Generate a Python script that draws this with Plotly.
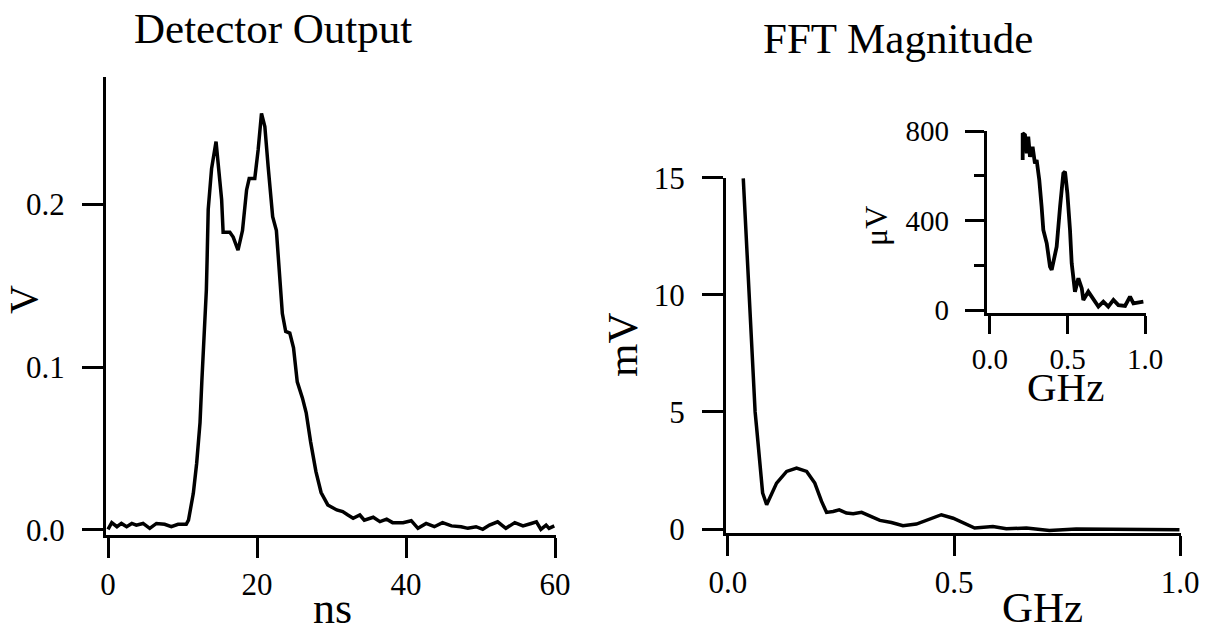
import plotly.graph_objects as go

W, H = 1212, 633
SERIF = "Liberation Serif"

# ---------------- data ----------------
# Detector output (time in ns, volts)
det_t = [0, 0.5, 1.2, 1.8, 2.5, 3.2, 3.8, 4.7, 5.6, 6.5, 7.6, 8.5, 9.4, 10.5,
         10.8, 11.45, 11.9, 12.35, 12.6, 12.87, 13.2, 13.3, 13.45, 13.9, 14.5,
         15.25, 15.45, 16.35, 16.8, 17.45, 18.05, 18.6, 18.95, 19.7, 20.15, 20.6,
         21.05, 21.5, 22.1, 22.6, 22.95, 23.4, 23.85, 24.4, 24.9, 25.4, 26.1,
         26.6, 27.2, 27.9, 28.6, 29.5, 30.7, 31.5, 32.2, 32.9, 33.8, 34.4, 35.6,
         36.5, 37.4, 38.2, 39.6, 40.7, 41.6, 42.7, 43.8, 44.9, 46.1, 47.4, 48.3,
         49.4, 50.3, 51.2, 52.3, 53.4, 54.6, 55.7, 56.8, 57.5, 58.1, 58.8, 59.2,
         59.9]
det_v = [0.0004, 0.0045, 0.002, 0.004, 0.002, 0.004, 0.003, 0.004, 0.001, 0.004,
         0.0035, 0.002, 0.0035, 0.0035,
         0.006, 0.0225, 0.041, 0.066, 0.092, 0.115, 0.1475, 0.166, 0.197, 0.222,
         0.2387,
         0.203, 0.183, 0.183, 0.180, 0.172, 0.184, 0.209, 0.216, 0.216, 0.2336,
         0.256, 0.248, 0.223, 0.1926, 0.184, 0.158, 0.133, 0.122, 0.121, 0.112,
         0.091, 0.081, 0.072, 0.054, 0.036, 0.023, 0.0154, 0.0123, 0.0113, 0.0092,
         0.0072, 0.0092, 0.006, 0.0078, 0.0051, 0.0066, 0.0045, 0.0045, 0.0057,
         0.001, 0.004, 0.002, 0.0045, 0.0025, 0.002, 0.001, 0.002, 0.0004, 0.003,
         0.005, 0.001, 0.0045, 0.0025, 0.004, 0.005, 0.0004, 0.003, 0.001, 0.0025]

# FFT magnitude (GHz, mV)
fft_f = [0.0338, 0.0464, 0.0523, 0.0574, 0.060, 0.063, 0.0707, 0.0766, 0.0855,
         0.1075, 0.1297, 0.1517, 0.174, 0.192, 0.207, 0.218, 0.2326, 0.246,
         0.262, 0.277, 0.2955, 0.314, 0.336, 0.3616, 0.387, 0.4167, 0.4462,
         0.472, 0.498, 0.5456, 0.586, 0.6156, 0.66, 0.711, 0.77, 0.844, 0.917,
         0.9986]
fft_mv = [14.97, 10.0, 8.0, 6.0, 5.0, 4.4, 2.8, 1.54, 1.04,
          1.96, 2.46, 2.60, 2.46, 1.96, 1.18, 0.71, 0.75, 0.82,
          0.68, 0.65, 0.71, 0.54, 0.37, 0.28, 0.14, 0.21, 0.43,
          0.61, 0.46, 0.04, 0.11, 0.01, 0.04, -0.06, 0.0, 0.0, -0.03,
          -0.03]

# Inset: FFT magnitude zoom (GHz, microvolts)
ins_f = [0.211, 0.211, 0.226, 0.237, 0.247, 0.258, 0.275, 0.29, 0.301, 0.318,
         0.333, 0.344, 0.366, 0.387, 0.398, 0.430, 0.452, 0.473, 0.484, 0.499,
         0.516, 0.527, 0.548, 0.570, 0.592, 0.602, 0.634, 0.667, 0.699, 0.731,
         0.763, 0.796, 0.828, 0.871, 0.903, 0.925, 0.957, 0.989]
ins_uv = [670, 790, 782, 700, 775, 685, 730, 655, 670, 581,
          462, 358, 298, 194, 179, 283, 462, 611, 618, 522,
          358, 209, 82, 142, 97, 45, 82, 45, 15, 37,
          15, 45, 22, 18, 60, 30, 33, 37]

det_xticks = [0, 20, 40, 60]
det_yticks = [0.0, 0.1, 0.2]
det_yticktext = ["0.0", "0.1", "0.2"]
fft_xticks = [0.0, 0.5, 1.0]
fft_xticktext = ["0.0", "0.5", "1.0"]
fft_yticks = [0, 5, 10, 15]
ins_yticks = [0, 400, 800]
ins_yminor = [200, 600]

# ---------------- helpers ----------------
def px_x(p):
    return p / W

def px_y(p):
    return 1 - p / H

line_style = dict(color="black", width=3.5)

fig = go.Figure()
fig.add_trace(go.Scatter(x=det_t, y=det_v, mode="lines", line=line_style,
                         xaxis="x", yaxis="y", hoverinfo="skip"))
fig.add_trace(go.Scatter(x=fft_f, y=fft_mv, mode="lines", line=line_style,
                         xaxis="x2", yaxis="y2", hoverinfo="skip"))
fig.add_trace(go.Scatter(x=ins_f, y=ins_uv, mode="lines",
                         line=dict(color="black", width=3.8),
                         xaxis="x3", yaxis="y3", hoverinfo="skip"))

common = dict(showgrid=False, zeroline=False, showline=True, linecolor="black",
              linewidth=3, ticks="outside", tickwidth=3, tickcolor="black",
              tickfont=dict(family=SERIF, size=31, color="black"),
              fixedrange=True, automargin=False)
small_font = dict(family=SERIF, size=29, color="black")

fig.update_layout(
    width=W, height=H, margin=dict(l=0, r=0, t=0, b=0, autoexpand=False),
    paper_bgcolor="white", plot_bgcolor="white", showlegend=False,
    xaxis=dict(**common, domain=[px_x(106), px_x(556)], range=[-0.27, 60.13],
               anchor="y", tickvals=det_xticks, ticklen=20,
               ticklabelstandoff=0),
    yaxis=dict(**common, domain=[px_y(535), px_y(77)], range=[-0.0031, 0.2784],
               anchor="x", tickvals=det_yticks, ticktext=det_yticktext,
               ticklen=21, ticklabelstandoff=11),
    xaxis2=dict(**common, domain=[px_x(726), px_x(1181)], range=[-0.0044, 1.002],
                anchor="y2", tickvals=fft_xticks, ticktext=fft_xticktext,
                ticklen=20, ticklabelstandoff=0),
    yaxis2=dict(**common, domain=[px_y(533), px_y(177.7)], range=[-0.17, 15.0],
                anchor="x2", tickvals=fft_yticks, ticklen=21,
                ticklabelstandoff=11),
    xaxis3=dict(**{**common, "tickfont": small_font},
                domain=[px_x(986.7), px_x(1146)], range=[-0.021, 1.006],
                anchor="y3", tickvals=fft_xticks, ticktext=fft_xticktext,
                ticklen=18, ticklabelstandoff=0),
    yaxis3=dict(**{**common, "tickfont": small_font},
                domain=[px_y(313.3), px_y(131)], range=[-14.7, 800],
                anchor="x3", tickvals=ins_yticks, ticklen=19,
                ticklabelstandoff=10,
                minor=dict(tickvals=ins_yminor, ticks="outside", ticklen=10,
                           tickwidth=3, tickcolor="black")),
)

def label(text, x, y, size, angle=0):
    fig.add_annotation(text=text, x=px_x(x), y=px_y(y), xref="paper", yref="paper",
                       showarrow=False, textangle=angle, xanchor="center",
                       yanchor="middle",
                       font=dict(family=SERIF, size=size, color="black"))

label("Detector Output", 273, 29, 43)
label("FFT Magnitude", 898, 39, 43)
label("V", 23, 300, 40, -90)
label("ns", 332, 608, 44)
label("mV", 622, 345, 43, -90)
label("GHz", 1042, 607, 43)
label("μV", 876, 226, 32, -90)
label("GHz", 1065, 387, 41)

fig.write_html("out.html")
